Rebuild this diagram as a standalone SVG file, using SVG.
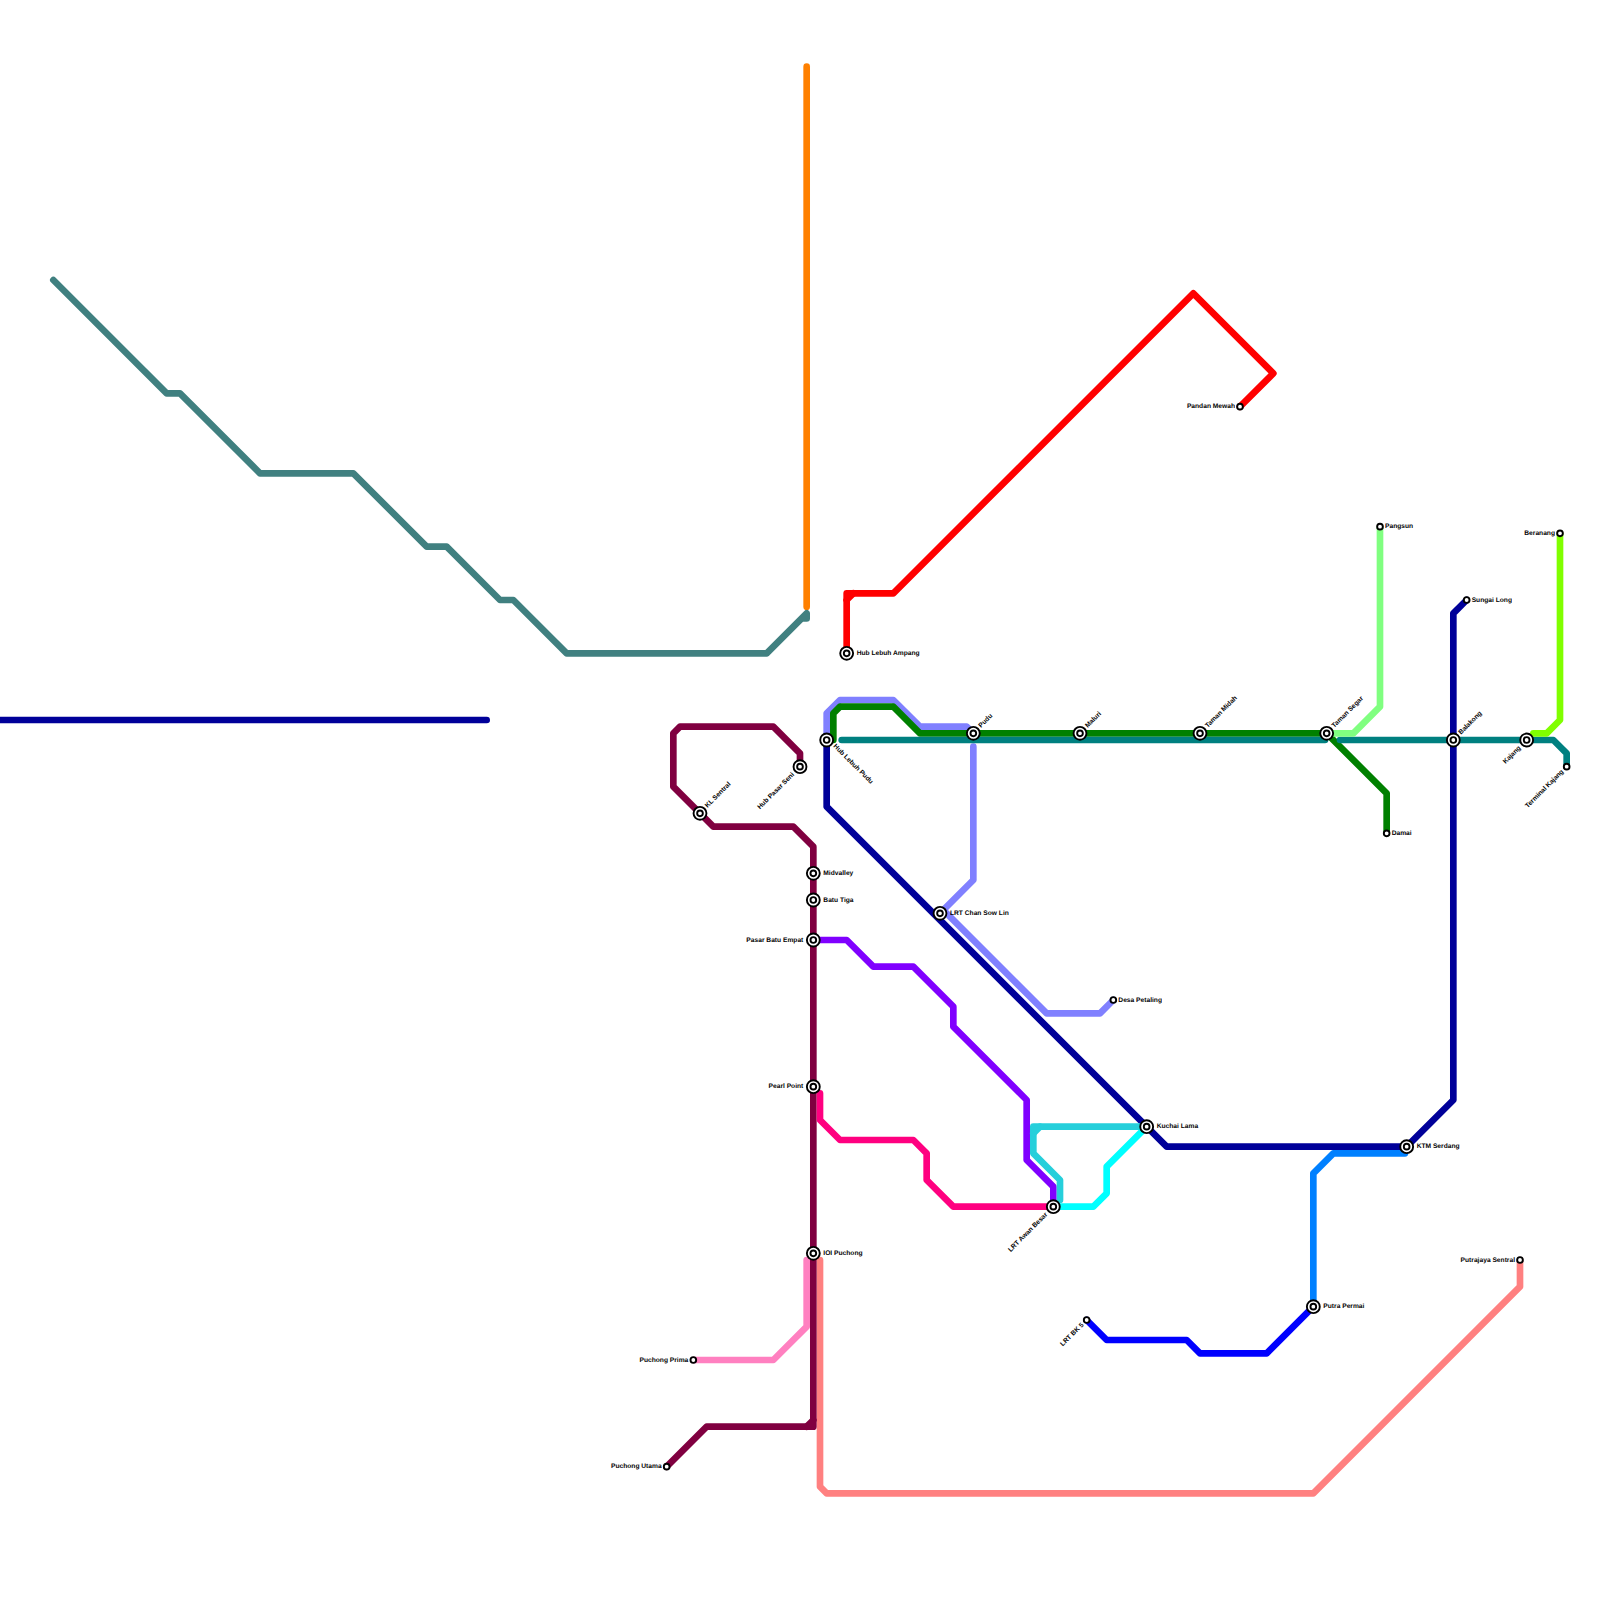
<svg xmlns="http://www.w3.org/2000/svg" width="1600" height="1600" viewBox="0 0 1600 1600">
<style>
.l{fill:none;stroke-width:6.67;stroke-linejoin:round;stroke-linecap:round}
.o{fill:#fff;stroke:#000;stroke-width:1.9}
text{font-family:"Liberation Sans",Arial,sans-serif;font-weight:bold;font-size:6.67px;fill:#000;text-rendering:geometricPrecision;opacity:.99}
.e{text-anchor:end}
</style>
<rect width="1600" height="1600" fill="#fff"/>
<g id="connectors">
<path class="l" stroke="#ff8000" d="M806.67 66.67V606.67"/>
<path class="l" stroke="#408080" d="M53.33 280L166.67 393.33H180L260 473.33H353.33L426.67 546.67H446.67L500 600H513.33L566.67 653.33H766.67L806.67 613.33V618.5H803"/>
<path class="l" stroke="#000099" d="M0 720H486.67"/>
<path class="l" stroke="#8080ff" d="M826.67 740V713.33L840 700H893.33L920 726.67H966.67L973.33 733.33"/>
<path class="l" stroke="#8080ff" d="M973.33 746.67V880L940 913.33"/>
<path class="l" stroke="#8080ff" d="M946.67 913.33L1046.67 1013.33H1100L1113.33 1000"/>
<path class="l" stroke="#008000" d="M833.33 740V713.33L840 706.67H893.33L920 733.33H1326.67"/>
<path class="l" stroke="#008000" d="M1326.67 733.33L1386.67 793.33V833.33"/>
<path class="l" stroke="#008080" d="M841.67 740H1325"/>
<path class="l" stroke="#008080" d="M1340 740H1553.33L1566.67 753.33V766.67"/>
<path class="l" stroke="#ff0000" d="M846.67 653.33V593.33H893.33L1193.33 293.33L1273.33 373.33L1240 406.67"/>
<path class="l" stroke="#ff0000" d="M846.67 600L853.33 593.33"/>
<path class="l" stroke="#80ff80" d="M1326.67 733.33H1353.33L1380 706.67V526.67"/>
<path class="l" stroke="#80ff00" d="M1533.33 733.33H1546.67L1560 720V533.33"/>
<path class="l" stroke="#0080ff" d="M1313.33 1306.67V1173.33L1333.33 1153.33H1405"/>
<path class="l" stroke="#000099" d="M826.67 740V806.67L1166.67 1146.67H1406.67L1453.33 1100V613.33L1466.67 600"/>
<path class="l" stroke="#0000ff" d="M1086.67 1320L1106.67 1340H1186.67L1200 1353.33H1266.67L1313.33 1306.67"/>
<path class="l" stroke="#ff80c0" d="M806.67 1260V1326.67L773.33 1360H693.33"/>
<path class="l" stroke="#ff8080" d="M820 1260V1486.67L826.67 1493.33H1313.33L1520 1286.67V1260"/>
<path class="l" stroke="#800040" d="M800 766.67V753.33L773.33 726.67H680L673.33 733.33V786.67L713.33 826.67H793.33L813.33 846.67V1426.67H706.67L666.67 1466.67"/>
<path class="l" stroke="#800040" d="M813.33 1420L806.67 1426.67"/>
<path class="l" stroke="#ff0080" d="M820 1093.33V1120L840 1140H913.33L926.67 1153.33V1180L953.33 1206.67H1053.33"/>
<path class="l" stroke="#8000ff" d="M813.33 940H846.67L873.33 966.67H913.33L953.33 1006.67V1026.67L1026.67 1100V1160L1053.33 1186.67V1206.67"/>
<path class="l" stroke="#26cfdb" d="M1146.67 1126.67H1033.33V1153.33L1060 1180V1200"/>
<path class="l" stroke="#26cfdb" d="M1033.33 1133.33L1040 1126.67"/>
<path class="l" stroke="#00ffff" d="M1060 1206.67H1093.33L1106.67 1193.33V1166.67L1146.67 1126.67"/>
</g>
<defs>
<g id="big"><circle class="o" r="6.45"/><circle class="o" r="2.85"/></g>
<circle id="small" class="o" r="2.85"/>
</defs>
<g id="n-hub-lebuh-ampang"><use href="#big" x="846.67" y="653.33"/><text x="856.67" y="654.9">Hub Lebuh Ampang</text></g>
<g id="n-hub-lebuh-pudu"><use href="#big" x="826.67" y="740"/><text transform="translate(833 746.6) rotate(45)">Hub Lebuh Pudu</text></g>
<g id="n-hub-pasar-seni"><use href="#big" x="800" y="766.67"/><text class="e" transform="translate(794.5 775) rotate(-45)">Hub Pasar Seni</text></g>
<g id="n-kl-sentral"><use href="#big" x="700" y="813.33"/><text transform="translate(707.5 808) rotate(-45)">KL Sentral</text></g>
<g id="n-pudu"><use href="#big" x="973.33" y="733.33"/><text transform="translate(981 728) rotate(-45)">Pudu</text></g>
<g id="n-maluri"><use href="#big" x="1080" y="733.33"/><text transform="translate(1087.7 728) rotate(-45)">Maluri</text></g>
<g id="n-taman-midah"><use href="#big" x="1200" y="733.33"/><text transform="translate(1207.7 728) rotate(-45)">Taman Midah</text></g>
<g id="n-taman-segar"><use href="#big" x="1326.67" y="733.33"/><text transform="translate(1334.3 728) rotate(-45)">Taman Segar</text></g>
<g id="n-balakong"><use href="#big" x="1453.33" y="740"/><text transform="translate(1461 734.7) rotate(-45)">Balakong</text></g>
<g id="n-kajang"><use href="#big" x="1526.67" y="740"/><text class="e" transform="translate(1521.2 748.3) rotate(-45)">Kajang</text></g>
<g id="n-terminal-kajang"><use href="#small" x="1566.67" y="766.67"/><text class="e" transform="translate(1564 772) rotate(-45)">Terminal Kajang</text></g>
<g id="n-pangsun"><use href="#small" x="1380" y="526.67"/><text x="1385" y="528.2">Pangsun</text></g>
<g id="n-beranang"><use href="#small" x="1560" y="533.33"/><text class="e" x="1555" y="534.9">Beranang</text></g>
<g id="n-sungai-long"><use href="#small" x="1466.67" y="600"/><text x="1471.67" y="601.6">Sungai Long</text></g>
<g id="n-damai"><use href="#small" x="1386.67" y="833.33"/><text x="1391.67" y="834.9">Damai</text></g>
<g id="n-pandan-mewah"><use href="#small" x="1240" y="406.67"/><text class="e" x="1235" y="408.2">Pandan Mewah</text></g>
<g id="n-midvalley"><use href="#big" x="813.33" y="873.33"/><text x="823.33" y="874.9">Midvalley</text></g>
<g id="n-batu-tiga"><use href="#big" x="813.33" y="900"/><text x="823.33" y="901.6">Batu Tiga</text></g>
<g id="n-pasar-batu-empat"><use href="#big" x="813.33" y="940"/><text class="e" x="803.33" y="941.6">Pasar Batu Empat</text></g>
<g id="n-lrt-chan-sow-lin"><use href="#big" x="940" y="913.33"/><text x="950" y="914.9">LRT Chan Sow Lin</text></g>
<g id="n-desa-petaling"><use href="#small" x="1113.33" y="1000"/><text x="1118.33" y="1001.6">Desa Petaling</text></g>
<g id="n-pearl-point"><use href="#big" x="813.33" y="1086.67"/><text class="e" x="803.33" y="1088.2">Pearl Point</text></g>
<g id="n-kuchai-lama"><use href="#big" x="1146.67" y="1126.67"/><text x="1156.67" y="1128.2">Kuchai Lama</text></g>
<g id="n-ktm-serdang"><use href="#big" x="1406.67" y="1146.67"/><text x="1416.67" y="1148.2">KTM Serdang</text></g>
<g id="n-lrt-awan-besar"><use href="#big" x="1053.33" y="1206.67"/><text class="e" transform="translate(1047.8 1215) rotate(-45)">LRT Awan Besar</text></g>
<g id="n-ioi-puchong"><use href="#big" x="813.33" y="1253.33"/><text x="823.33" y="1254.9">IOI Puchong</text></g>
<g id="n-putrajaya-sentral"><use href="#small" x="1520" y="1260"/><text class="e" x="1515" y="1261.6">Putrajaya Sentral</text></g>
<g id="n-putra-permai"><use href="#big" x="1313.33" y="1306.67"/><text x="1323.33" y="1308.2">Putra Permai</text></g>
<g id="n-lrt-bk-5"><use href="#small" x="1086.67" y="1320"/><text class="e" transform="translate(1084 1325.3) rotate(-45)">LRT BK 5</text></g>
<g id="n-puchong-prima"><use href="#small" x="693.33" y="1360"/><text class="e" x="688.33" y="1361.6">Puchong Prima</text></g>
<g id="n-puchong-utama"><use href="#small" x="666.67" y="1466.67"/><text class="e" x="661.67" y="1468.2">Puchong Utama</text></g>
</svg>
